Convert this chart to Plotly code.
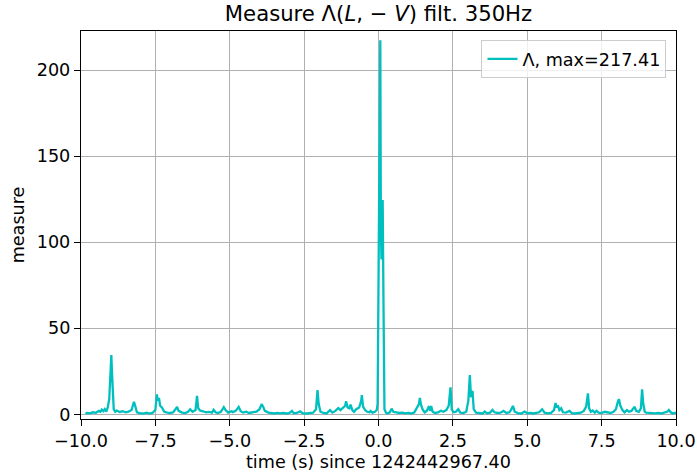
import plotly.graph_objects as go

# time (s) relative to 1242442967.40
times = [
    -9.85, -9.8, -9.7, -9.6, -9.5, -9.4, -9.35, -9.3, -9.25, -9.2, -9.15, -9.1, -9.05, -9.02, -9.0, -8.98, -8.96, -8.93, -8.9, -8.85,
    -8.8, -8.7, -8.6, -8.5, -8.4, -8.3, -8.25, -8.22, -8.18, -8.12, -8.0, -7.9, -7.8, -7.7, -7.6, -7.5, -7.45, -7.42, -7.38, -7.34,
    -7.28, -7.2, -7.1, -7.0, -6.9, -6.8, -6.77, -6.72, -6.6, -6.5, -6.4, -6.33, -6.25, -6.15, -6.1, -6.06, -6.0, -5.9, -5.8, -5.7,
    -5.6, -5.54, -5.48, -5.4, -5.3, -5.2, -5.14, -5.05, -4.95, -4.9, -4.8, -4.7, -4.63, -4.55, -4.45, -4.35, -4.25, -4.1, -4.0, -3.93,
    -3.88, -3.82, -3.7, -3.6, -3.5, -3.4, -3.3, -3.2, -3.1, -3.0, -2.91, -2.85, -2.75, -2.63, -2.55, -2.4, -2.3, -2.2, -2.1, -2.05,
    -2.01, -1.95, -1.85, -1.75, -1.63, -1.55, -1.45, -1.35, -1.28, -1.2, -1.12, -1.09, -1.04, -0.98, -0.94, -0.88, -0.82, -0.75, -0.65, -0.58,
    -0.56, -0.52, -0.45, -0.38, -0.3, -0.27, -0.2, -0.12, -0.06, -0.03, -0.01, 0.02, 0.04, 0.06, 0.08, 0.1, 0.12, 0.14, 0.17, 0.2,
    0.25, 0.3, 0.38, 0.44, 0.5, 0.6, 0.7, 0.8, 0.9, 1.0, 1.1, 1.2, 1.3, 1.36, 1.39, 1.43, 1.48, 1.55, 1.62, 1.7,
    1.73, 1.77, 1.82, 1.9, 2.0, 2.1, 2.18, 2.28, 2.36, 2.42, 2.46, 2.52, 2.6, 2.68, 2.75, 2.85, 2.95, 3.02, 3.07, 3.11,
    3.16, 3.2, 3.28, 3.4, 3.5, 3.57, 3.65, 3.75, 3.83, 3.9, 4.0, 4.1, 4.2, 4.3, 4.4, 4.45, 4.52, 4.58, 4.7, 4.8,
    4.91, 5.0, 5.1, 5.2, 5.3, 5.4, 5.5, 5.58, 5.7, 5.8, 5.9, 5.95, 5.99, 6.03, 6.08, 6.14, 6.2, 6.3, 6.42, 6.5,
    6.6, 6.7, 6.8, 6.9, 6.98, 7.04, 7.08, 7.14, 7.2, 7.27, 7.33, 7.4, 7.5, 7.6, 7.7, 7.8, 7.9, 7.98, 8.04, 8.08,
    8.13, 8.2, 8.27, 8.35, 8.42, 8.5, 8.57, 8.61, 8.66, 8.75, 8.82, 8.86, 8.9, 8.95, 9.0, 9.1, 9.2, 9.3, 9.4, 9.5,
    9.6, 9.7, 9.76, 9.82, 9.9, 10.0,
]
measure = [
    0.4, 0.8, 0.6, 1.2, 0.9, 2.0, 1.5, 2.8, 1.8, 3.0, 1.6, 4.0, 9.0, 22.0, 30.0, 34.5, 25.0, 8.0, 3.0, 1.5,
    2.2, 1.4, 1.8, 1.2, 1.6, 2.5, 5.5, 7.3, 5.0, 1.2, 0.6, 0.5, 1.0, 0.4, 0.8, 2.5, 11.6, 8.0, 9.5, 5.0,
    4.0, 1.5, 1.0, 0.8, 1.2, 3.5, 4.3, 2.0, 1.0, 0.7, 1.5, 3.0, 1.5, 2.5, 10.8, 3.5, 2.2, 1.8, 1.2, 1.4,
    1.0, 2.6, 1.2, 0.8, 1.5, 4.2, 2.5, 1.0, 1.8, 1.3, 2.0, 4.3, 1.8, 1.0, 1.5, 0.8, 1.2, 1.6, 3.0, 5.9,
    4.5, 2.0, 1.0, 0.6, 0.5, 0.8, 0.6, 0.9, 0.5, 0.7, 2.0, 0.6, 0.8, 1.7, 0.6, 0.5, 0.7, 1.0, 3.0, 14.1,
    6.0, 1.5, 0.8, 0.5, 2.5, 1.0, 2.0, 3.7, 2.5, 4.0, 5.0, 7.6, 4.0, 3.5, 5.6, 2.5, 1.5, 3.0, 4.0, 8.0,
    11.2, 4.5, 2.5, 1.5, 1.2, 2.0, 1.0, 1.5, 2.5, 6.0, 49.0, 157.0, 150.0, 217.41, 107.0, 90.0, 120.0, 124.6, 60.0, 3.0,
    1.0, 0.5, 1.2, 3.3, 1.5, 1.2, 0.8, 1.0, 0.6, 0.8, 0.5, 1.0, 4.0, 6.0, 9.6, 5.5, 3.0, 1.2, 2.0, 4.8,
    2.0, 4.8, 1.5, 0.8, 1.2, 2.1, 1.5, 2.5, 5.0, 15.7, 3.0, 1.2, 1.5, 3.0, 1.0, 0.8, 1.5, 8.0, 22.8, 10.0,
    13.7, 3.0, 1.0, 0.8, 0.5, 1.6, 0.6, 1.0, 2.5, 1.2, 0.8, 1.0, 2.0, 0.8, 1.2, 2.5, 4.9, 1.5, 0.6, 0.5,
    1.6, 0.6, 0.8, 0.5, 0.9, 1.2, 3.0, 1.0, 0.6, 0.9, 2.5, 6.6, 4.0, 5.2, 2.5, 3.5, 1.2, 1.0, 2.0, 0.7,
    0.5, 0.8, 1.0, 2.0, 4.5, 12.2, 3.5, 1.5, 2.2, 1.0, 2.0, 1.0, 0.8, 1.5, 1.2, 0.8, 1.5, 3.0, 7.0, 8.9,
    5.0, 2.5, 1.2, 2.5, 1.5, 2.0, 3.5, 4.4, 2.0, 1.5, 3.5, 14.5, 6.0, 1.5, 1.0, 0.8, 1.0, 0.6, 0.8, 0.5,
    1.0, 1.5, 2.5, 1.2, 0.5, 1.0,
]

series_name = "Λ, max=217.41"
title_text = "Measure Λ(<i>L</i>, − <i>V</i>) filt. 350Hz"
x_label = "time (s) since 1242442967.40"
y_label = "measure"

FONT = "DejaVu Sans"
TICK = 17.6
TITLE = 21.2

fig = go.Figure()
fig.add_trace(go.Scatter(
    x=times, y=measure, mode="lines", name=series_name,
    line=dict(color="#00bfbf", width=2.3),
))

fig.update_layout(
    width=697, height=474,
    margin=dict(l=81, r=21, t=31, b=55, autoexpand=False),
    paper_bgcolor="white", plot_bgcolor="white",
    font=dict(family=FONT, size=TICK, color="black"),
    title=dict(text=title_text, x=0.5, xanchor="center", xref="paper",
               y=1 - 14 / 474, yref="container", yanchor="middle",
               font=dict(family=FONT, size=TITLE, color="black")),
    showlegend=True,
    legend=dict(x=0.984, y=0.977, xanchor="right", yanchor="top",
                bgcolor="rgba(255,255,255,0.8)", bordercolor="#cccccc", borderwidth=1,
                font=dict(family=FONT, size=TICK, color="black")),
)

fig.update_xaxes(
    range=[-10, 10], tick0=-10, dtick=2.5, tickformat=".1f",
    showgrid=True, gridcolor="#b0b0b0", gridwidth=1.3,
    showline=True, linecolor="black", linewidth=1.3, mirror=True,
    ticks="outside", ticklen=6, tickwidth=1.3, tickcolor="black",
    zeroline=False,
    title=dict(text=x_label, standoff=5, font=dict(family=FONT, size=TICK)),
    automargin=False,
)
fig.update_yaxes(
    range=[-2.7, 222.8], tick0=0, dtick=50,
    showgrid=True, gridcolor="#b0b0b0", gridwidth=1.3,
    showline=True, linecolor="black", linewidth=1.3, mirror=True,
    ticks="outside", ticklen=6, tickwidth=1.3, tickcolor="black",
    zeroline=False,
    title=dict(text=y_label, standoff=7, font=dict(family=FONT, size=TICK)),
    automargin=False,
)

fig.write_html("out.html")
